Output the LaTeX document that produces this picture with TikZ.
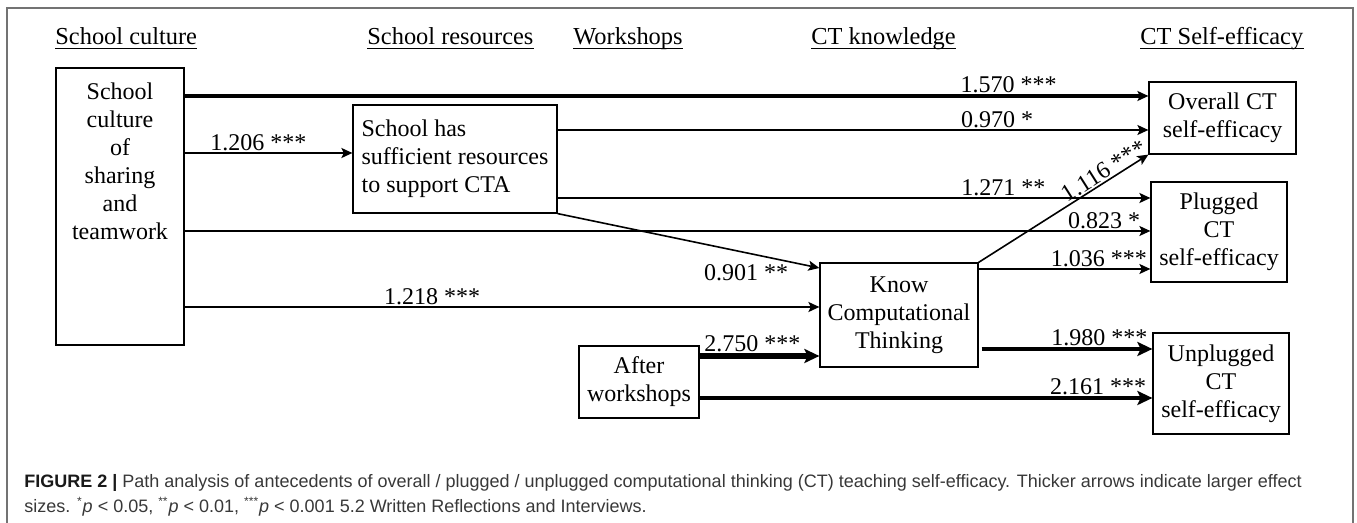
\documentclass[tikz,border=0pt]{standalone}
\usepackage{fontspec}
\setmainfont{Liberation Serif}
\newfontfamily\capfont{Liberation Sans}
\usetikzlibrary{arrows.meta}
\begin{document}
\begin{tikzpicture}[x=0.5pt,y=-0.5pt,
  txt/.style={font=\fontsize{12}{14}\selectfont},
  box/.style={txt, draw, line width=0.6pt, inner sep=0pt, align=center},
  hdr/.style={anchor=base west, inner sep=0pt, font=\fontsize{12.2}{14}\selectfont},
  uline/.style={line width=0.5pt},
  lbl/.style={txt, inner sep=0.6pt, above},
  con/.style={-{Stealth[length=5.5pt,width=5pt,inset=1.2pt]}},
  conbig/.style={-{Stealth[length=7.5pt,width=7pt,inset=1.6pt]}},
  wthin/.style={con, line width=0.8pt},
  wmed/.style={con, line width=1.1pt},
  wthick/.style={con, line width=1.7pt},
  wthicker/.style={conbig, line width=2.2pt},
  wthickest/.style={conbig, line width=2.8pt},
  captext/.style={anchor=base west, inner sep=0pt, text=black!78, font=\capfont\fontsize{9}{12}\selectfont}
]
\useasboundingbox (0,0) rectangle (1357,523);
% frame
\draw[black!55, line width=0.6pt] (7,523) -- (7,8) -- (1353,8) -- (1353,523);

% headers
\node[hdr] (h1) at (55,45) {School culture};
\node[hdr] (h2) at (367,45) {School resources};
\node[hdr] (h3) at (573,45) {Workshops};
\node[hdr] (h4) at (811,45) {CT knowledge};
\node[hdr] (h5) at (1140,45) {CT Self-efficacy};
\foreach \h in {h1,h2,h3,h4,h5}
  \draw[uline] ([yshift=-2pt]\h.base west) -- ([yshift=-2pt]\h.base east);

% boxes
\node[box, minimum width=64pt, minimum height=138.5pt] (SC) at (120,206.5) {};
\node[txt, align=center, inner sep=0pt] (SCt) at (120,161) {School\\culture\\of\\sharing\\and\\teamwork};
\node[box, align=left, minimum width=102pt, minimum height=54pt] (SR) at (455,159) {School has\\sufficient resources\\to support CTA};
\node[box, minimum width=79pt, minimum height=52pt] (KCT) at (899,315) {Know\\Computational\\Thinking};
\node[box, minimum width=60pt, minimum height=36pt] (AW) at (639,382) {After\\workshops};
\node[box, minimum width=73.5pt, minimum height=36pt] (OV) at (1222.5,118) {Overall CT\\self-efficacy};
\node[box, minimum width=68pt, minimum height=50pt] (PL) at (1219,232) {Plugged\\CT\\self-efficacy};
\node[box, minimum width=68pt, minimum height=50.5pt] (UN) at (1221,383.5) {Unplugged\\CT\\self-efficacy};

% connectors
\draw[wthick] (SC.east |- 0,96) -- node[lbl, pos=0.855] (l1) {1.570 ***} (OV.west |- 0,96);
\draw[wmed] (SC.east |- 0,153) -- node[lbl, pos=0.44] (l2) {1.206 ***} (SR.west |- 0,153);
\draw[wthin] (SR.east |- 0,130) -- node[lbl, pos=0.744] (l3) {0.970 *} (OV.west |- 0,130);
\draw[wmed] (SR.east |- 0,198) -- node[lbl, pos=0.752] (l4) {1.271 **} (PL.west |- 0,198);
\draw[wthin] (SC.east |- 0,231) -- node[lbl, pos=0.952] (l5) {0.823 *} (PL.west |- 0,231);
\draw[wthin] (SR.south east) -- node[txt, inner sep=0.6pt, pos=0.72, below=5pt] (l6) {0.901 **} (KCT.west |- 0,268);
\draw[wmed] (SC.east |- 0,307) -- node[lbl, pos=0.39] (l7) {1.218 ***} (KCT.west |- 0,307);
\draw[wthickest] (AW.east |- 0,356) -- node[lbl, pos=0.44] (l8) {2.750 ***} (KCT.west |- 0,356);
\draw[wthin] (KCT.north east) -- node[lbl, sloped, pos=0.77] (l9) {1.116 ***} (OV.south west);
\draw[wthin] (KCT.east |- 0,269) -- node[lbl, pos=0.70] (l10) {1.036 ***} (PL.west |- 0,269);
\draw[wthicker] ([xshift=1.5pt]KCT.east |- 0,349) -- node[lbl, pos=0.69] (l11) {1.980 ***} (UN.west |- 0,349);
\draw[wthicker] (AW.east |- 0,398) -- node[lbl, pos=0.88] (l12) {2.161 ***} (UN.west |- 0,398);

% caption
\node[captext] (cap1) at (24,488) {\textbf{\color{black!90}FIGURE 2 |} Path analysis of antecedents of overall / plugged / unplugged computational thinking (CT) teaching self-efficacy. Thicker arrows indicate larger effect};
\node[captext] (cap2) at (24,513) {sizes. \textsuperscript{*}\textit{p} < 0.05, \textsuperscript{**}\textit{p} < 0.01, \textsuperscript{***}\textit{p} < 0.001 5.2 Written Reflections and Interviews.};
\end{tikzpicture}
\end{document}
